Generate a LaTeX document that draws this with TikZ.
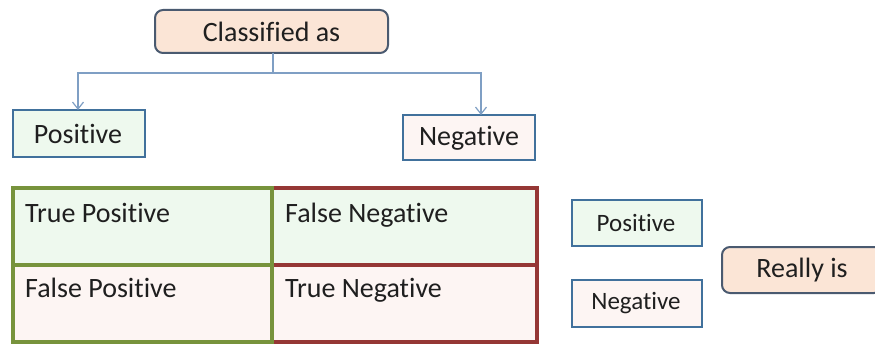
\documentclass[tikz,border=0pt]{standalone}
\usepackage{fontspec}
\setmainfont{Carlito}[Ligatures={NoCommon}]
\usetikzlibrary{arrows.meta}
\definecolor{peach}{HTML}{FBE5D6}
\definecolor{slate}{HTML}{4A5A70}
\definecolor{boxblue}{HTML}{41719C}
\definecolor{linkblue}{HTML}{7F9FC4}
\definecolor{gridgreen}{HTML}{77933C}
\definecolor{gridred}{HTML}{953735}
\definecolor{lightgreen}{HTML}{EEF9EE}
\definecolor{lightpink}{HTML}{FDF5F3}
\definecolor{txt}{HTML}{1F1F1F}
\tikzset{
  x=1pt, y=-1pt,
  headbox/.style={draw=slate, line width=2pt, fill=peach, rounded corners=8pt},
  labbox/.style={draw=boxblue, line width=2pt},
  greencell/.style={draw=gridgreen, line width=3.5pt},
  redcell/.style={draw=gridred, line width=3.5pt},
  lbl/.style={text=txt, font=\fontsize{28}{32}\selectfont, inner sep=0pt},
  smalllbl/.style={text=txt, font=\fontsize{25}{29}\selectfont, inner sep=0pt},
  link/.style={draw=linkblue, line width=1.2pt},
  linkarrow/.style={link, -{Straight Barb[length=7pt,width=11pt,line width=1.2pt]}},
}
\begin{document}
\begin{tikzpicture}
\useasboundingbox (0,0) rectangle (875,345);
\fill[white] (0,0) rectangle (875,345);
% Classified as
\draw[headbox] (155,10) rectangle (388,53);
\node[lbl] (cls) at (271.5,32) {Classified as};
\coordinate (clsb) at (273,53);
\coordinate (split) at (273,73);
% Positive / Negative top boxes
\draw[labbox, fill=lightgreen] (13,110) rectangle (145,157);
\node[lbl] (pos) at (78,134) {Positive};
\coordinate (postop) at (78,110);
\draw[labbox, fill=lightpink] (403,115) rectangle (535,160);
\node[lbl] (neg) at (469,138) {Negative};
\coordinate (negtop) at (481,115);
% connectors
\draw[link] (clsb) -- (split);
\draw[linkarrow] (split) -| (postop);
\draw[linkarrow] (split) -| (negtop);
% grid
\fill[lightgreen] (13,188) rectangle (537,265);
\fill[lightpink] (13,265) rectangle (537,342);
\draw[redcell] (272,188) rectangle (537,265);
\draw[redcell] (272,265) rectangle (537,342);
\draw[greencell] (13,188) rectangle (272,265);
\draw[greencell] (13,265) rectangle (272,342);
\node[lbl, anchor=base west] (tp) at (25,222) {True Positive};
\node[lbl, anchor=base west] (fn) at (285,222) {False Negative};
\node[lbl, anchor=base west] (fp) at (25,297) {False Positive};
\node[lbl, anchor=base west] (tn) at (285,297) {True Negative};
% right side
\draw[labbox, fill=lightgreen] (572,200) rectangle (702,246);
\node[smalllbl] (rpos) at (636,223) {Positive};
\draw[labbox, fill=lightpink] (572,280) rectangle (702,327);
\node[smalllbl] (rneg) at (636,303) {Negative};
\draw[headbox] (722,247) rectangle (882,293);
\node[lbl] (real) at (802,270) {Really is};
\end{tikzpicture}
\end{document}
